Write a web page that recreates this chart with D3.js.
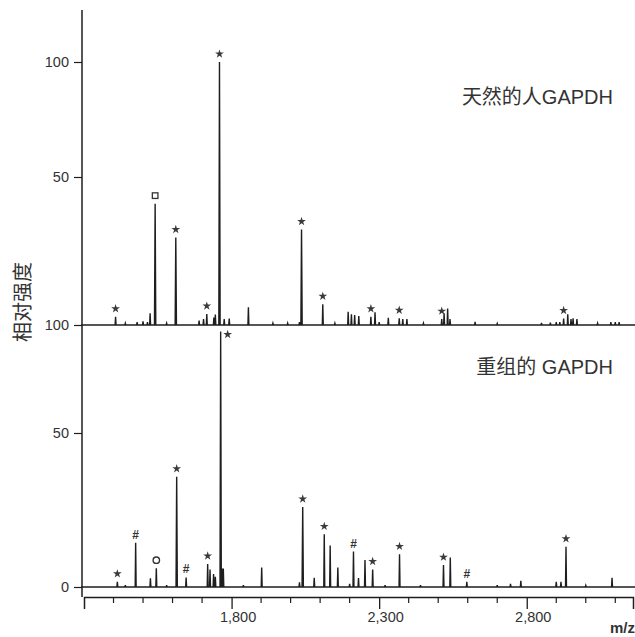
<!DOCTYPE html>
<html><head><meta charset="utf-8">
<script src="https://cdn.jsdelivr.net/npm/d3@7"></script>
<style>
html,body{margin:0;padding:0;background:#fff;}
svg{display:block;}
text{font-family:"Liberation Sans",Arial,"Noto Sans CJK SC",sans-serif;fill:#333;}
</style></head>
<body>
<svg id="chart" width="635" height="637"></svg>
<script>
// ---- data ----
const mzDomain = [1300, 3160];
const xTickValues = [1800, 2300, 2800];
const xTickLabels = ["1,800", "2,300", "2,800"];
const xMinorTicks = [1400,1500,1600,1700,1900,2000,2100,2200,2400,2500,2600,2700,2900,3000,3100];
const topYTicks = [50, 100];
const bottomYTicks = [0, 50, 100];
const topLabel = "天然的人GAPDH";
const bottomLabel = "重组的 GAPDH";
const yTitle = "相对强度";
const xTitle = "m/z";

// [m/z, relative intensity]
const topPeaks = [[1407,2.8],[1440,0.6],[1480,1],[1500,1.2],[1515,1],[1524,4],[1541,41],[1580,0.6],[1611,29.6],
  [1690,1.5],[1705,2],[1716,3.7],[1740,2.5],[1745,3.5],[1759,100],[1775,2],[1792,2.2],[1857,6],[1940,0.6],[1990,0.6],
  [2030,1],[2037,32.3],[2109,7],[2150,0.6],[2195,4.5],[2206,3.6],[2217,3.4],[2231,3],[2272,2.8],[2286,4.3],[2300,1],
  [2331,2.4],[2368,2.3],[2380,2],[2394,2],[2450,0.6],[2512,2],[2520,4],[2532,5.6],[2540,2],[2625,1.1],[2700,0.5],
  [2850,0.7],[2880,0.8],[2900,1],[2912,1],[2925,2.2],[2939,3.6],[2950,2],[2957,2.3],[2970,2],[3040,0.6],[3085,1],[3100,1],[3113,1]];
const topMarks = [[1407,"star"],[1541,"square"],[1611,"star"],[1716,"star"],[1759,"star"],[2037,"star"],
  [2109,"star"],[2272,"star"],[2368,"star"],[2512,"star"],[2925,"star"]];

const bottomPeaks = [[1413,1.7],[1440,0.6],[1475,14.4],[1525,2.8],[1545,6.1],[1580,0.6],[1614,35.8],[1646,3.1],
  [1719,7.5],[1727,5.7],[1739,4.2],[1745,3.3],[1763,97],[1768,6],[1772,6],[1840,0.6],[1902,6.3],[2030,1.5],[2041,26],
  [2080,3],[2114,17.1],[2134,13.5],[2160,6.3],[2200,1],[2213,11.5],[2230,2.9],[2252,8.8],[2278,5.7],[2320,0.6],
  [2369,10.6],[2440,0.6],[2518,7.1],[2541,9.6],[2597,1.7],[2700,0.6],[2745,1],[2780,2],[2900,1.7],[2916,1.7],
  [2933,13.1],[3000,0.5],[3089,3]];
const bottomMarks = [[1413,"star"],[1475,"hash"],[1545,"circle"],[1614,"star"],[1646,"hash"],[1719,"star"],
  [1763,"star"],[2041,"star"],[2114,"star"],[2213,"hash"],[2278,"star"],[2369,"star"],[2518,"star"],
  [2597,"hash"],[2933,"star"]];

// ---- layout ----
const svg = d3.select("#chart");
const xLeft = 84, xRight = 633, axisX = 82;
const x = d3.scaleLinear().domain(mzDomain).range([xLeft, xRight]);
const yTop = d3.scaleLinear().domain([0, 50, 100]).range([325, 177, 62]);
const yBot = d3.scaleLinear().domain([0, 50, 100]).range([587, 433, 325]);
const xAxisY = 597;
const ink = "#1e1e1e";
const numFont = '"Liberation Sans", Arial, sans-serif';

function spectrumPoints(peaks) {
  const pts = [[mzDomain[0] - 10, 0]];
  peaks.slice().sort((a, b) => a[0] - b[0]).forEach(([m, h]) => {
    const w = h > 20 ? 2.2 : 1.6;
    pts.push([m - w, 0], [m, h], [m + w, 0]);
  });
  pts.push([mzDomain[1] + 10, 0]);
  return pts;
}

function drawPanel(peaks, marks, y, panelTop) {
  const line = d3.line().x(d => x(d[0])).y(d => y(d[1]));
  svg.append("path")
    .attr("d", line(spectrumPoints(peaks)))
    .attr("fill", "none").attr("stroke", ink).attr("stroke-width", 1.4)
    .attr("stroke-linejoin", "miter");
  const hMap = new Map(peaks.map(p => [p[0], p[1]]));
  const g = svg.append("g");
  marks.forEach(([m, type]) => {
    const h = hMap.get(m) || 0;
    let cx = x(m), cy = y(h) - 8;
    if (cy - 5 < panelTop) { cx = x(m) + 7; cy = y(h) + 3; }
    if (type === "star") {
      g.append("path").attr("d", d3.symbol(d3.symbolStar, 24)())
        .attr("transform", `translate(${cx},${cy})`).attr("fill", "#3a3a3a");
    } else if (type === "square") {
      g.append("rect").attr("x", cx - 2.8).attr("y", cy - 2.8).attr("width", 5.6).attr("height", 5.6)
        .attr("fill", "none").attr("stroke", "#333").attr("stroke-width", 1.3);
    } else if (type === "circle") {
      g.append("circle").attr("cx", cx).attr("cy", cy).attr("r", 3.2)
        .attr("fill", "none").attr("stroke", "#333").attr("stroke-width", 1.4);
    } else if (type === "hash") {
      g.append("text").attr("x", cx).attr("y", cy + 4).attr("text-anchor", "middle")
        .attr("font-size", 12).attr("font-weight", "bold").text("#");
    }
  });
}

drawPanel(topPeaks, topMarks, yTop, 10);
drawPanel(bottomPeaks, bottomMarks, yBot, 325);

// y axes
function styleAxis(sel) {
  sel.selectAll(".domain").remove();
  sel.selectAll(".tick line").attr("stroke", ink).attr("stroke-width", 1.2);
  sel.selectAll(".tick text").attr("font-size", 14.5).attr("fill", "#333")
    .style("font-family", numFont);
}
svg.append("g").attr("transform", `translate(${axisX},0)`)
  .call(d3.axisLeft(yTop).tickValues(topYTicks).tickSize(8).tickPadding(5).tickFormat(d3.format("d")))
  .call(styleAxis);
svg.append("g").attr("transform", `translate(${axisX},0)`)
  .call(d3.axisLeft(yBot).tickValues(bottomYTicks).tickSize(8).tickPadding(5).tickFormat(d3.format("d")))
  .call(styleAxis);

// vertical axis line
svg.append("line").attr("x1", axisX).attr("x2", axisX).attr("y1", 10).attr("y2", xAxisY)
  .attr("stroke", ink).attr("stroke-width", 1.5);

// x axis
const xAxisG = svg.append("g").attr("transform", `translate(0,${xAxisY})`)
  .call(d3.axisBottom(x).tickValues(xTickValues).tickSize(12).tickSizeOuter(12).tickPadding(3)
    .tickFormat((d, i) => xTickLabels[i]));
xAxisG.select(".domain").attr("stroke", ink).attr("stroke-width", 1.5);
xAxisG.selectAll(".tick line").attr("stroke", ink).attr("stroke-width", 1.3);
xAxisG.selectAll(".tick text").attr("font-size", 14.5).attr("fill", "#333")
  .attr("dx", 6).style("font-family", numFont);
svg.append("g").attr("transform", `translate(0,${xAxisY})`)
  .selectAll("line").data(xMinorTicks).join("line")
  .attr("x1", d => x(d)).attr("x2", d => x(d)).attr("y1", 0).attr("y2", 6)
  .attr("stroke", ink).attr("stroke-width", 1.2);

// titles
const labelFont = '"Liberation Sans", Arial, "Noto Sans CJK SC", sans-serif';
svg.append("text").attr("x", 613).attr("y", 104).attr("text-anchor", "end")
  .attr("font-size", 20).style("font-family", labelFont).text(topLabel);
svg.append("text").attr("x", 613).attr("y", 374).attr("text-anchor", "end")
  .attr("font-size", 20).style("font-family", labelFont).text(bottomLabel);
svg.append("text").attr("transform", "translate(30,302) rotate(-90)").attr("text-anchor", "middle")
  .attr("font-size", 20).attr("font-weight", "normal")
  .style("font-family", '"Noto Sans CJK SC", sans-serif').attr("fill", "#2a2a2a")
  .text(yTitle);
svg.append("text").attr("x", 635).attr("y", 633).attr("text-anchor", "end")
  .attr("font-size", 15).attr("font-weight", "bold").attr("fill", "#222")
  .style("font-family", numFont).text(xTitle);
</script>
</body></html>
